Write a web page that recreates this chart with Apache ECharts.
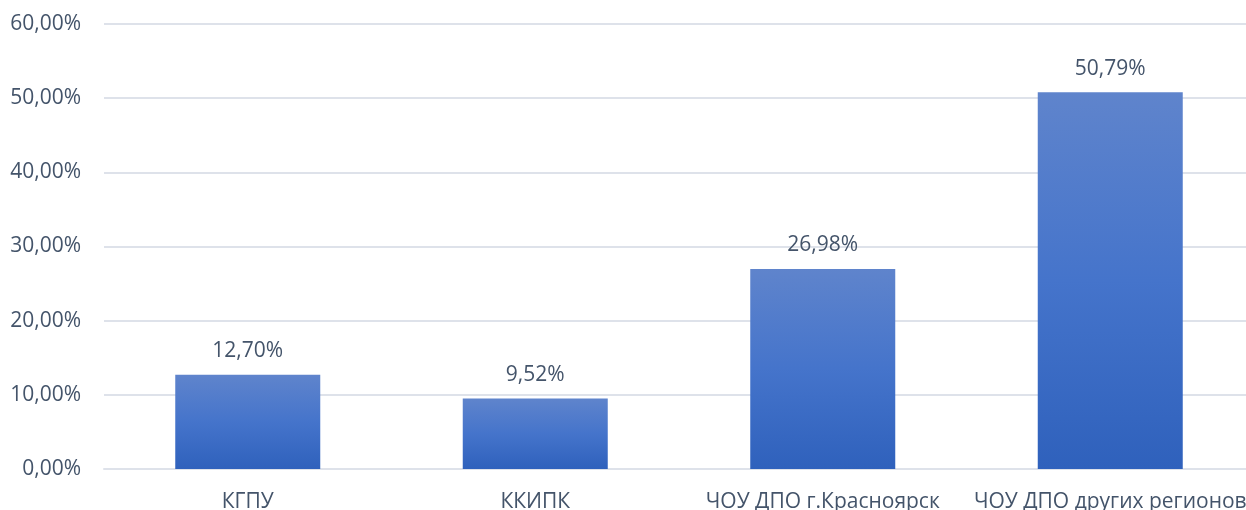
<!DOCTYPE html>
<html>
<head>
<meta charset="utf-8">
<style>
html,body{margin:0;padding:0;background:#fff;}
#chart{width:1246px;height:510px;}
</style>
<script src="https://cdn.jsdelivr.net/npm/echarts@6/dist/echarts.min.js"></script>
</head>
<body>
<div id="chart"></div>
<script>
const categories = ['КГПУ', 'ККИПК', 'ЧОУ ДПО г.Красноярск', 'ЧОУ ДПО других регионов'];
const values = [12.70, 9.52, 26.98, 50.79];
const yTicks = [0, 10, 20, 30, 40, 50, 60];

const fmt = v => v.toFixed(2).replace('.', ',') + '%';
const textColor = '#44546a';
const fontFamily = '"Open Sans", "Noto Sans", sans-serif';
const gridColor = '#dee2ea';

const chart = echarts.init(document.getElementById('chart'), null, {renderer: 'canvas'});
chart.setOption({
  animation: false,
  backgroundColor: '#ffffff',
  grid: {left: 104, width: 1150, top: 24, height: 445, containLabel: false, outerBoundsMode: 'none'},
  xAxis: {
    type: 'category',
    data: categories,
    axisLine: {show: true, lineStyle: {color: gridColor, width: 2}},
    axisTick: {show: false},
    axisLabel: {color: textColor, fontSize: 21, fontFamily: fontFamily, margin: 23, interval: 0, hideOverlap: false}
  },
  yAxis: {
    type: 'value',
    min: yTicks[0],
    max: yTicks[yTicks.length - 1],
    interval: 10,
    axisLine: {show: false},
    axisTick: {show: false},
    splitLine: {lineStyle: {color: gridColor, width: 2}},
    axisLabel: {color: textColor, fontSize: 21, fontFamily: fontFamily, margin: 23, formatter: v => fmt(v)}
  },
  series: [{
    type: 'bar',
    data: values,
    barWidth: 145,
    itemStyle: {
      color: new echarts.graphic.LinearGradient(0, 0, 0, 1, [
        {offset: 0, color: '#5f84cc'},
        {offset: 0.5, color: '#4574cb'},
        {offset: 1, color: '#2f61bc'}
      ])
    },
    label: {
      show: true,
      position: 'top',
      distance: 13,
      color: textColor,
      fontSize: 21,
      fontFamily: fontFamily,
      formatter: p => fmt(p.value)
    }
  }]
});
</script>
</body>
</html>
